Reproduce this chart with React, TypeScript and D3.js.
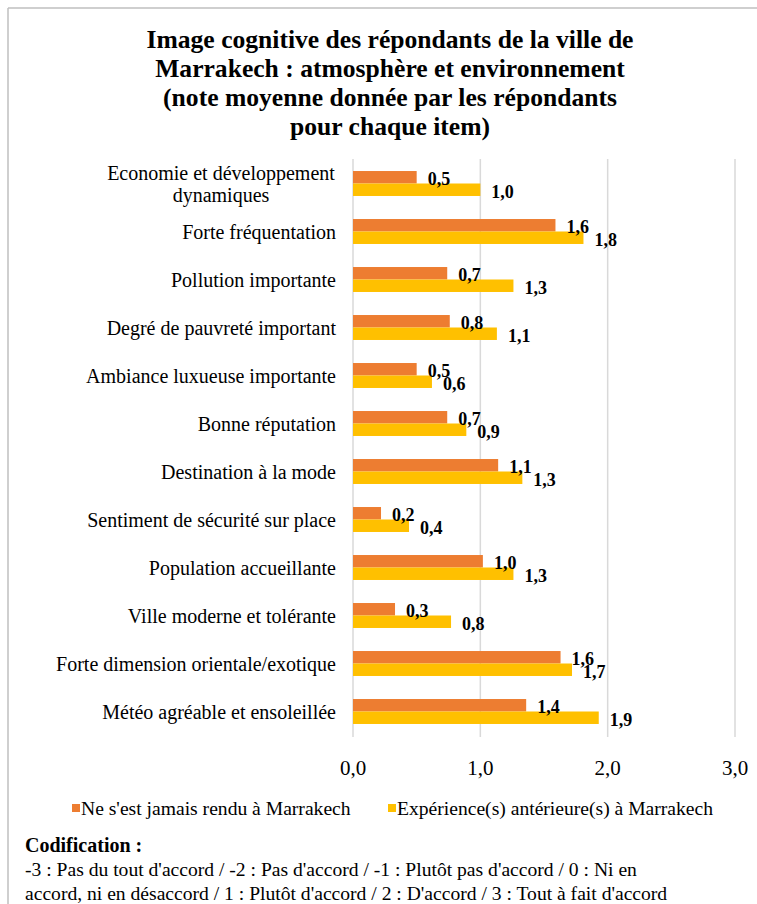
import React from "react";
import * as d3 from "d3";

const categories = [
  ["Economie et développement", "dynamiques"],
  ["Forte fréquentation"],
  ["Pollution importante"],
  ["Degré de pauvreté important"],
  ["Ambiance luxueuse importante"],
  ["Bonne réputation"],
  ["Destination à la mode"],
  ["Sentiment de sécurité sur place"],
  ["Population accueillante"],
  ["Ville moderne et tolérante"],
  ["Forte dimension orientale/exotique"],
  ["Météo agréable et ensoleillée"],
];
const jamais = [0.5, 1.59, 0.74, 0.76, 0.5, 0.74, 1.14, 0.22, 1.02, 0.33, 1.63, 1.36];
const experience = [1.0, 1.81, 1.26, 1.13, 0.62, 0.89, 1.33, 0.44, 1.26, 0.77, 1.72, 1.93];
const seriesNames = ["Ne s'est jamais rendu à Marrakech", "Expérience(s) antérieure(s) à Marrakech"];
const colors = ["#ED7D31", "#FFC000"];
const ticks = [0, 1, 2, 3];
const titleLines = [
  "Image cognitive des répondants de la ville de",
  "Marrakech  : atmosphère et environnement",
  "(note moyenne donnée par les répondants",
  "pour chaque item)",
];
const footerTitle = "Codification :";
const footerLines = [
  "-3 : Pas du tout d'accord / -2 : Pas d'accord / -1 : Plutôt pas d'accord / 0 : Ni en",
  "accord, ni en désaccord / 1 : Plutôt d'accord / 2 : D'accord / 3 : Tout à fait d'accord",
];

const FONT = "'Liberation Serif', 'Times New Roman', serif";
const fmt = (v: number) => v.toFixed(1).replace(".", ",");

export default function App() {
  const W = 757, H = 904;
  const x = d3.scaleLinear().domain([0, 3]).range([353, 735]);
  const y = d3
    .scaleBand<number>()
    .domain(d3.range(categories.length))
    .range([159.5, 735.5])
    .paddingInner(0.48)
    .paddingOuter(0.24);
  const sub = d3.scaleBand<number>().domain([0, 1]).range([0, y.bandwidth()]);
  const data = [jamais, experience];

  return (
    <svg width={W} height={H} style={{ position: "absolute", left: 0, top: 0 }} fontFamily={FONT}>
      <rect x={0} y={0} width={W} height={H} fill="#fff" />
      <line x1={8} y1={8} x2={W} y2={8} stroke="#bfbfbf" strokeWidth={1.5} />
      <line x1={8} y1={8} x2={8} y2={H} stroke="#bfbfbf" strokeWidth={1.5} />

      {titleLines.map((t, i) => (
        <text key={i} x={390} y={48 + i * 29} textAnchor="middle" fontSize={25.6} fontWeight="bold" fill="#000">
          {t}
        </text>
      ))}

      {ticks.map((t) => (
        <line key={t} x1={x(t)} x2={x(t)} y1={159} y2={737} stroke="#d9d9d9" strokeWidth={1.5} />
      ))}

      {data.map((s, si) =>
        s.map((v, i) => (
          <rect
            key={`${si}-${i}`}
            x={x(0)}
            y={(y(i) as number) + (sub(si) as number)}
            width={x(v) - x(0)}
            height={sub.bandwidth()}
            fill={colors[si]}
          />
        ))
      )}

      {data.map((s, si) =>
        s.map((v, i) => (
          <text
            key={`l${si}-${i}`}
            x={x(v) + 11}
            y={(y(i) as number) + (sub(si) as number) + sub.bandwidth() / 2 + (si === 0 ? 1 : 2)}
            dy="0.35em"
            fontSize={18}
            fontWeight="bold"
            fill="#000"
          >
            {fmt(v)}
          </text>
        ))
      )}

      {categories.map((lines, i) => {
        const cy = (y(i) as number) + y.bandwidth() / 2;
        const lh = 22;
        const start = cy - ((lines.length - 1) * lh) / 2;
        if (lines.length === 1) {
          return (
            <text key={i} x={336} y={cy} dy="0.35em" textAnchor="end" fontSize={20} fill="#000">
              {lines[0]}
            </text>
          );
        }
        return (
          <text key={i} x={221} y={start} textAnchor="middle" fontSize={20} fill="#000">
            {lines.map((l, j) => (
              <tspan key={j} x={221} y={start + j * lh} dy="0.35em">
                {l}
              </tspan>
            ))}
          </text>
        );
      })}

      {ticks.map((t) => (
        <text key={`t${t}`} x={x(t)} y={775} textAnchor="middle" fontSize={21} fill="#000">
          {fmt(t)}
        </text>
      ))}

      {seriesNames.map((n, i) => {
        const lx = [72, 388][i];
        return (
          <g key={n}>
            <rect x={lx} y={804} width={8} height={8} fill={colors[i]} />
            <text x={lx + 9} y={815} fontSize={19.6} fill="#000">
              {n}
            </text>
          </g>
        );
      })}

      <text x={25} y={852} fontSize={20} fontWeight="bold" fill="#000">
        {footerTitle}
      </text>
      {footerLines.map((l, i) => (
        <text key={i} x={25} y={876 + i * 24} fontSize={19.6} fill="#000">
          {l}
        </text>
      ))}
    </svg>
  );
}
